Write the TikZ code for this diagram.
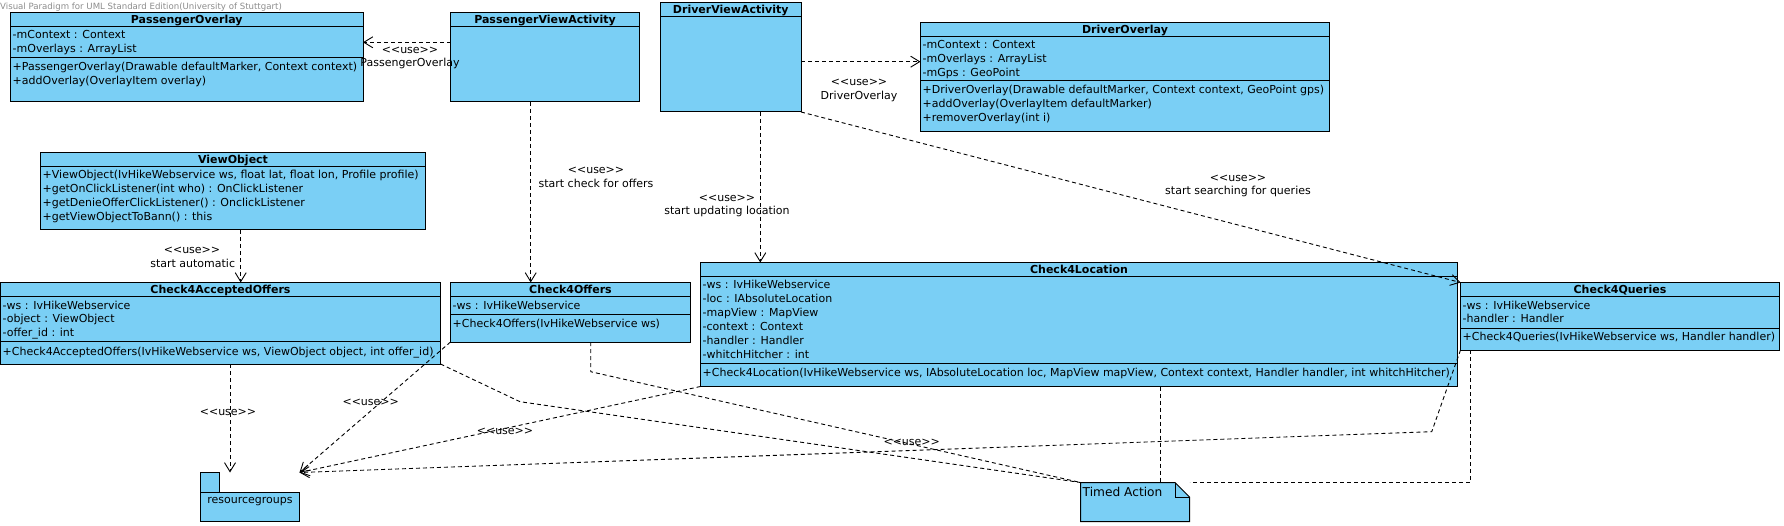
\documentclass[tikz,border=0pt]{standalone}
\usepackage{fontspec}
\setmainfont{DejaVu Sans}
\usetikzlibrary{arrows.meta}
\definecolor{cblue}{RGB}{122,207,245}
\definecolor{wmgray}{RGB}{140,140,140}
\newcommand\fs{\fontsize{11}{14}\selectfont}
\newcommand\uselbl{<\kern0pt<use>\kern0pt>}
\begin{document}
\begin{tikzpicture}[x=1pt,y=-1pt,
 cls/.style={draw=black, fill=cblue, line width=1pt, anchor=north west, inner sep=0pt, outer sep=0pt},
 box/.style={anchor=north west, inner sep=0pt, outer sep=0pt},
 txt/.style={anchor=base west, inner sep=0pt, font=\fs},
 ttl/.style={anchor=base, inner sep=0pt, font=\fs\bfseries},
 lbl/.style={anchor=base, inner sep=0pt, font=\fs},
 dep/.style={draw=black, line width=0.9pt, dash pattern=on 4pt off 3pt},
 arr/.style={-{Straight Barb[length=9pt,width=11pt]}},
 sepl/.style={draw=black, line width=1pt}]
\useasboundingbox (0,0) rectangle (1784,526);

\node[anchor=base west, inner sep=0pt, font=\fontsize{8.6}{9}\selectfont, text=wmgray] (wm) at (0,9.5) {Visual Paradigm for UML Standard Edition(University of Stuttgart)};

% PassengerOverlay
\node[cls, minimum width=352.5pt, minimum height=89.5pt] (po) at (10.5,12.5) {};
\draw[sepl] (10.5,26.5) -- (363,26.5);
\draw[sepl] (10.5,57.5) -- (363,57.5);
\node[ttl] (po-t) at (186.75,23.5) {PassengerOverlay};
\node[txt] (po-a1) at (12.5,38.5) {-mContext : Context};
\node[txt] (po-a2) at (12.5,52.5) {-mOverlays : ArrayList};
\node[txt] (po-m1) at (12.5,70.5) {+PassengerOverlay(Drawable defaultMarker, Context context)};
\node[txt] (po-m2) at (12.5,84.5) {+addOverlay(OverlayItem overlay)};

% PassengerViewActivity
\node[cls, minimum width=189pt, minimum height=89.5pt] (pva) at (450.5,12.5) {};
\draw[sepl] (450.5,26.5) -- (639.5,26.5);
\node[ttl] (pva-t) at (545,23.5) {PassengerViewActivity};

% DriverViewActivity
\node[cls, minimum width=140.5pt, minimum height=109.5pt] (dva) at (660.5,2.5) {};
\draw[sepl] (660.5,16.5) -- (801,16.5);
\node[ttl] (dva-t) at (730.75,13.5) {DriverViewActivity};

% DriverOverlay
\node[cls, minimum width=409pt, minimum height=109.5pt] (do) at (920.5,22.5) {};
\draw[sepl] (920.5,36.5) -- (1329.5,36.5);
\draw[sepl] (920.5,81) -- (1329.5,81);
\node[ttl] (do-t) at (1125,33.5) {DriverOverlay};
\node[txt] (do-a1) at (922.5,48.5) {-mContext : Context};
\node[txt] (do-a2) at (922.5,62.5) {-mOverlays : ArrayList};
\node[txt] (do-a3) at (922.5,76.5) {-mGps : GeoPoint};
\node[txt] (do-m1) at (922.5,94) {+DriverOverlay(Drawable defaultMarker, Context context, GeoPoint gps)};
\node[txt] (do-m2) at (922.5,108) {+addOverlay(OverlayItem defaultMarker)};
\node[txt] (do-m3) at (922.5,122) {+removerOverlay(int i)};

% ViewObject
\node[cls, minimum width=385pt, minimum height=77.5pt] (vo) at (40.5,152.5) {};
\draw[sepl] (40.5,166.5) -- (425.5,166.5);
\node[ttl] (vo-t) at (233,163.5) {ViewObject};
\node[txt] (vo-m1) at (42.5,179) {+ViewObject(IvHikeWebservice ws, float lat, float lon, Profile profile)};
\node[txt] (vo-m2) at (42.5,193) {+getOnClickListener(int who) : OnClickListener};
\node[txt] (vo-m3) at (42.5,207) {+getDenieOfferClickListener() : OnclickListener};
\node[txt] (vo-m4) at (42.5,221) {+getViewObjectToBann() : this};

% Check4AcceptedOffers
\node[cls, minimum width=440pt, minimum height=81.5pt] (cao) at (0.5,282.5) {};
\draw[sepl] (0.5,296.5) -- (440.5,296.5);
\draw[sepl] (0.5,341.5) -- (440.5,341.5);
\node[ttl] (cao-t) at (220.5,293.5) {Check4AcceptedOffers};
\node[txt] (cao-a1) at (2.5,309) {-ws : IvHikeWebservice};
\node[txt] (cao-a2) at (2.5,323) {-object : ViewObject};
\node[txt] (cao-a3) at (2.5,337) {-offer\_id : int};
\node[txt] (cao-m1) at (2.5,355) {+Check4AcceptedOffers(IvHikeWebservice ws, ViewObject object, int offer\_id)};

% Check4Offers
\node[cls, minimum width=240pt, minimum height=59.5pt] (co) at (450.5,282.5) {};
\draw[sepl] (450.5,296.5) -- (690.5,296.5);
\draw[sepl] (450.5,314.5) -- (690.5,314.5);
\node[ttl] (co-t) at (570.5,293.5) {Check4Offers};
\node[txt] (co-a1) at (452.5,309) {-ws : IvHikeWebservice};
\node[txt] (co-m1) at (452.5,327.5) {+Check4Offers(IvHikeWebservice ws)};

% Check4Location
\node[cls, minimum width=757pt, minimum height=124pt] (cl) at (700.5,262.5) {};
\draw[sepl] (700.5,276.5) -- (1457.5,276.5);
\draw[sepl] (700.5,363.5) -- (1457.5,363.5);
\node[ttl] (cl-t) at (1079,273.5) {Check4Location};
\node[txt] (cl-a1) at (702.5,288.5) {-ws : IvHikeWebservice};
\node[txt] (cl-a2) at (702.5,302.5) {-loc : IAbsoluteLocation};
\node[txt] (cl-a3) at (702.5,316.5) {-mapView : MapView};
\node[txt] (cl-a4) at (702.5,330.5) {-context : Context};
\node[txt] (cl-a5) at (702.5,344.5) {-handler : Handler};
\node[txt] (cl-a6) at (702.5,358.5) {-whitchHitcher : int};
\node[txt] (cl-m1) at (702.5,376.5) {+Check4Location(IvHikeWebservice ws, IAbsoluteLocation loc, MapView mapView, Context context, Handler handler, int whitchHitcher)};

% Check4Queries
\node[cls, minimum width=319pt, minimum height=67.5pt] (cq) at (1460.5,282.5) {};
\draw[sepl] (1460.5,296.5) -- (1779.5,296.5);
\draw[sepl] (1460.5,328) -- (1779.5,328);
\node[ttl] (cq-t) at (1620,293.5) {Check4Queries};
\node[txt] (cq-a1) at (1462.5,309) {-ws : IvHikeWebservice};
\node[txt] (cq-a2) at (1462.5,323) {-handler : Handler};
\node[txt] (cq-m1) at (1462.5,341) {+Check4Queries(IvHikeWebservice ws, Handler handler)};

% resourcegroups package
\node[cls, minimum width=19pt, minimum height=20pt] (rgtab) at (200.5,472.5) {};
\node[cls, minimum width=99pt, minimum height=28.5pt] (rgbody) at (200.5,492.5) {};
\node[lbl] (rg-t) at (250,503.5) {resourcegroups};
\node[box, minimum width=99pt, minimum height=48.5pt] (rg) at (200.5,472.5) {};

% Timed Action note
\node[box, minimum width=109pt, minimum height=39pt] (ta) at (1080.5,482.5) {};
\draw[sepl, fill=cblue] (ta.north west) -- (1175,482.5) -- (1189.5,497) -- (ta.south east) -- (ta.south west) -- cycle;
\draw[sepl] (1175,482.5) -- (1175,497) -- (1189.5,497);
\node[anchor=base west, inner sep=0pt, font=\fontsize{12.2}{14}\selectfont] (ta-t) at (1082.5,496.2) {Timed Action};

% connectors
\draw[dep,arr] (pva.west |- 0,42.3) -- (po.east |- 0,42.3);
\draw[dep,arr] (dva.east |- 0,61.7) -- (do.west |- 0,61.7);
\draw[dep,arr] (pva.south -| 530.7,0) -- (co.north -| 530.7,0);
\draw[dep,arr] (dva.south -| 760.3,0) -- (cl.north -| 760.3,0);
\draw[dep,arr] (dva.south east) -- (cq.north west);
\draw[dep,arr] (vo.south -| 240.7,0) -- (cao.north -| 240.7,0);
\draw[dep,arr] (cao.south -| 230,0) -- (rg.north -| 230,0);
\draw[dep,arr] (co.south west) -- (rg.north east);
\draw[dep,arr] (cl.south west) -- (rg.north east);
\draw[dep,arr] (cq.south west) -- (1431.7,431.7) -- (rg.north east);
\draw[dep] (co.south -| 590.7,0) -- (590.7,371.7) -- (ta.north west);
\draw[dep] (cao.south east) -- (520,401.7) -- (ta.north west);
\draw[dep] (cl.south -| 1160,0) -- (ta.north -| 1160,0);
\draw[dep] (cq.south -| 1470,0) -- (1470,482.5) -- (ta.north east);

% labels
\node[lbl] (lA1) at (410,53.5) {\uselbl};
\node[lbl] (lA2) at (410,67) {PassengerOverlay};
\node[lbl] (lB1) at (859,85.7) {\uselbl};
\node[lbl] (lB2) at (859,99.3) {DriverOverlay};
\node[lbl] (lC1) at (596,174) {\uselbl};
\node[lbl] (lC2) at (596,187.5) {start check for offers};
\node[lbl] (lD1) at (727,201.3) {\uselbl};
\node[lbl] (lD2) at (727,215) {start updating location};
\node[lbl] (lE1) at (1238,181.7) {\uselbl};
\node[lbl] (lE2) at (1238,195) {start searching for queries};
\node[lbl] (lF1) at (192,253.3) {\uselbl};
\node[lbl] (lF2) at (192.7,267.3) {start automatic};
\node[lbl] (lG) at (228,415.7) {\uselbl};
\node[lbl] (lH) at (370.7,405.7) {\uselbl};
\node[lbl] (lI) at (505,434) {\uselbl};
\node[lbl] (lJ) at (911.7,445) {\uselbl};
\end{tikzpicture}
\end{document}
